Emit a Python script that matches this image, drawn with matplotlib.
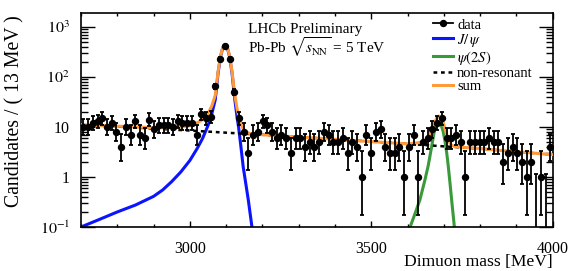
import math
import numpy as np
import matplotlib
matplotlib.use("Agg")
import matplotlib.pyplot as plt
from matplotlib.lines import Line2D
from matplotlib.ticker import MultipleLocator, LogLocator, NullFormatter, FixedLocator, FixedFormatter

plt.rcParams['font.family'] = ['Liberation Serif', 'DejaVu Serif']
plt.rcParams['mathtext.fontset'] = 'stix'

# histogram: 100 bins of 13 MeV from 2700 MeV
mass_min = 2700
bin_width = 13
counts = [10, 10, 12, 13, 15, 10, 12, 8, 4, 10,
          7, 13, 7, 6, 14, 9, 11, 11, 11, 10,
          13, 12, 12, 12, 7, 18, 15, 16, 65, 232,
          423, 232, 50, 15, 8, 3, 7, 8, 13, 11,
          8, 6, 7, 6, 3, 6, 6, 4, 5, 4,
          5, 8, 7, 5, 5, 6, 3, 5, 4, 1,
          7, 3, 8, 9, 4, 3, 3, 4, 1, 4,
          7, 1, 5, 6, 9, 12, 15, 6, 6, 7,
          5, 1, 5, 5, 5, 5, 6, 5, 5, 2,
          3, 4, 3, 2, 1, 2, 0, 1, 0, 4]

# fit components (mass [MeV], candidates per 13 MeV)
jpsi_mass = [2700, 2750, 2800, 2850, 2900, 2925, 2950, 2975, 3000, 3020, 3035, 3050, 3060, 3070,
             3078, 3085, 3090, 3094, 3097, 3100, 3104, 3109, 3116, 3124, 3130, 3134, 3140, 3147,
             3154, 3161, 3172]
jpsi_val = [0.10, 0.141, 0.20, 0.275, 0.41, 0.55, 0.81, 1.26, 2.14, 3.7, 5.9, 10.7, 17.8, 35,
            124, 264, 366, 425, 435, 425, 366, 264, 124, 35, 16, 10.3, 4.5, 1.6,
            0.75, 0.35, 0.09]

psi2s_mass = [3600, 3607, 3620, 3634, 3648, 3657, 3666, 3673, 3680, 3686, 3692, 3698, 3703,
              3708, 3712, 3717, 3722, 3729, 3732]
psi2s_val = [0.08, 0.10, 0.18, 0.35, 0.88, 1.7, 3.9, 7.7, 11.3, 12.5, 11.3, 8.2, 5.3,
             3.0, 1.7, 0.75, 0.32, 0.10, 0.07]

bkg_mass = [2700, 2800, 2900, 3000, 3100, 3200, 3300, 3400, 3500, 3600, 3700, 3800, 3900, 4000]
bkg_val = [11.0, 10.2, 9.3, 8.5, 7.7, 7.0, 6.3, 5.7, 5.1, 4.6, 4.1, 3.7, 3.2, 2.8]

sum_mass = [2700, 2750, 2800, 2850, 2900, 2925, 2950, 2975, 3000, 3020, 3035, 3050, 3060, 3070,
            3078, 3085, 3090, 3094, 3097, 3100, 3104, 3109, 3116, 3124, 3130, 3134, 3140, 3147,
            3154, 3161, 3171, 3200, 3300, 3400, 3500, 3600, 3620, 3634, 3648, 3657, 3666, 3673,
            3680, 3686, 3692, 3698, 3703, 3708, 3712, 3717, 3722, 3729, 3800, 3900, 4000]
sum_val = [11.1, 10.7, 10.4, 10.0, 9.7, 9.6, 9.7, 10.0, 10.6, 12.1, 14.1, 18.8, 25.8, 43,
           132, 272, 374, 433, 443, 433, 374, 272, 132, 43, 23.5, 17.8, 12.0, 9.0,
           8.0, 7.6, 7.2, 7.0, 6.3, 5.7, 5.1, 4.6, 4.75, 4.9, 5.4, 6.2, 8.4, 11.4,
           15.0, 16.6, 15.4, 12.3, 9.3, 7.0, 5.7, 4.7, 4.3, 4.05, 3.7, 3.2, 2.8]

ytick_vals = [0.1, 1, 10, 100, 1000]
ytick_labels = ['$10^{-1}$', '1', '10', '$10^{2}$', '$10^{3}$']


# Poisson cdf P(X <= k | mu)
def pois_cdf(k, mu):
    if mu <= 0:
        return 1.0
    s = 0.0
    for j in range(k + 1):
        s += math.exp(j * math.log(mu) - mu - math.lgamma(j + 1))
    return s


# central 68% poisson interval (RooFit style)
def poisson_interval(n, cl=0.6827):
    alpha = (1 - cl) / 2
    if n == 0:
        return 0.0, -math.log(1 - cl)
    a, b = 0.0, float(n)
    for _ in range(60):
        m = 0.5 * (a + b)
        if 1 - pois_cdf(n - 1, m) < alpha:
            a = m
        else:
            b = m
    lo = 0.5 * (a + b)
    a, b = float(n), n + 10 * math.sqrt(n) + 10
    for _ in range(60):
        m = 0.5 * (a + b)
        if pois_cdf(n, m) > alpha:
            a = m
        else:
            b = m
    hi = 0.5 * (a + b)
    return lo, hi


counts = np.array(counts, float)
centers = mass_min + bin_width * (np.arange(len(counts)) + 0.5)
intervals = np.array([poisson_interval(int(n)) for n in counts])
err_lo = counts - intervals[:, 0]
err_hi = intervals[:, 1] - counts

fig = plt.figure(figsize=(5.81, 2.71), dpi=100)
ax = fig.add_axes([81 / 581, 1 - 227 / 271, 471.7 / 581, 213.7 / 271])

c_orange = '#ff9a3c'
c_blue = '#0a14ff'
c_green = '#3a9a3a'

ax.plot(jpsi_mass, jpsi_val, color=c_blue, lw=2.2, zorder=2)
ax.plot(psi2s_mass, psi2s_val, color=c_green, lw=2.2, zorder=2)
ax.plot(bkg_mass, bkg_val, color='k', lw=1.8, ls=(0, (1.5, 1.5)), zorder=2)
ax.plot(sum_mass, sum_val, color=c_orange, lw=2.2, zorder=3)
ax.errorbar(centers, counts, yerr=[err_lo, err_hi], fmt='o', color='k', ms=4.3,
            elinewidth=1.3, capsize=1.6, capthick=1.3, zorder=5)

ax.set_yscale('log', nonpositive='clip')
ax.set_xlim(2700, 4000)
ax.set_ylim(0.1, 1880)

ax.xaxis.set_major_locator(MultipleLocator(500))
ax.xaxis.set_minor_locator(MultipleLocator(100))
ax.yaxis.set_major_locator(FixedLocator(ytick_vals))
ax.yaxis.set_major_formatter(FixedFormatter(ytick_labels))
ax.yaxis.set_minor_locator(LogLocator(base=10, subs=np.arange(2, 10)))
ax.yaxis.set_minor_formatter(NullFormatter())

ax.tick_params(axis='both', which='both', direction='in', top=True, right=True, width=1.0, labelsize=11.5)
ax.tick_params(axis='x', which='major', length=4.6, pad=10)
ax.tick_params(axis='x', which='minor', length=2.3)
ax.tick_params(axis='y', which='major', length=10, pad=8)
ax.tick_params(axis='y', which='minor', length=5)
for sp in ax.spines.values():
    sp.set_linewidth(1.2)

ax.set_xlabel('Dimuon mass [MeV]', fontsize=12.6, loc='right')
ax.xaxis.set_label_coords(1.0, -0.128)
ax.set_ylabel('Candidates / ( 13 MeV )', fontsize=14.2, loc='top')
ax.yaxis.set_label_coords(-0.119, 0.99)

ax.text(0.354, 0.907, 'LHCb Preliminary', transform=ax.transAxes, fontsize=11, va='baseline')
ax.text(0.354, 0.812, r'Pb-Pb $\sqrt{s_{\rm NN}}$ = 5 TeV', transform=ax.transAxes,
        fontsize=11, va='baseline')

handles = [Line2D([], [], color='k', marker='o', ms=4.3, lw=1.3),
           Line2D([], [], color=c_blue, lw=2.2),
           Line2D([], [], color=c_green, lw=2.2),
           Line2D([], [], color='k', lw=1.8, ls=(0, (1.5, 1.5))),
           Line2D([], [], color=c_orange, lw=2.2)]
labels = ['data', r'$J/\,\psi$', r'$\psi(2S)$', 'non-resonant', 'sum']
ax.legend(handles, labels, loc='upper left', bbox_to_anchor=(0.74, 0.99), frameon=False,
          fontsize=10.5, handlelength=1.35, handletextpad=0.3, labelspacing=0.0,
          borderaxespad=0.0, borderpad=0.2)

fig.savefig('out.png', dpi=100)
